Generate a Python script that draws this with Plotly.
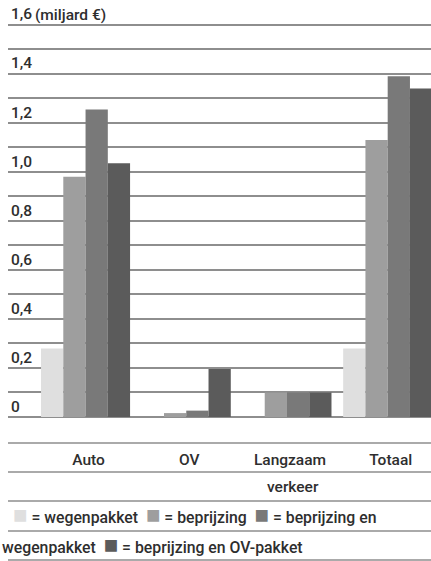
import plotly.graph_objects as go

# ---------------- data ----------------
categories = ["Auto", "OV", "Langzaam", "Totaal"]
extra_label = "verkeer"  # second line under "Langzaam"

series_names = ["wegenpakket", "beprijzing", "beprijzing en wegenpakket",
                "beprijzing en OV-pakket"]
wegenpakket = [0.28, 0.0, 0.0, 0.28]
beprijzing = [0.98, 0.016, 0.10, 1.13]
beprijzing_wegenpakket = [1.255, 0.026, 0.10, 1.39]
beprijzing_ov_pakket = [1.035, 0.196, 0.10, 1.34]

y_tick_values = [0, 0.1, 0.2, 0.3, 0.4, 0.5, 0.6, 0.7, 0.8,
                 0.9, 1.0, 1.1, 1.2, 1.3, 1.4, 1.5, 1.6]
y_tick_labels = ["0", "", "0,2", "", "0,4", "", "0,6", "", "0,8",
                 "", "1,0", "", "1,2", "", "1,4", "", "1,6"]
y_unit = "(miljard €)"

legend_line1 = ["= wegenpakket", "= beprijzing", "= beprijzing en"]
legend_line2_prefix = "wegenpakket"
legend_line2 = ["= beprijzing en OV-pakket"]

# ---------------- style ----------------
colors = ["#dfdfdf", "#9e9e9e", "#797979", "#5b5b5b"]
grid_color = "#8e8e8e"
text_color = "#2e2e2e"
font_family = "Roboto, 'Open Sans', sans-serif"
FONT = dict(family=font_family, size=15.5, color=text_color, weight=500)
LEG_FONT = dict(family=font_family, size=15.8, color=text_color, weight=500)

W, H = 431, 561
m_l, m_r, m_t, m_b = 8, 0, 0, 144
plot_h = H - m_t - m_b
plot_w = W - m_l - m_r


def py(pixel_y):
    """page pixel row -> paper y"""
    return (H - m_b - pixel_y) / plot_h


def px(pixel_x):
    return (pixel_x - m_l) / plot_w


fig = go.Figure()
all_series = [wegenpakket, beprijzing, beprijzing_wegenpakket, beprijzing_ov_pakket]
for name, vals, col in zip(series_names, all_series, colors):
    fig.add_trace(go.Bar(
        x=categories, y=vals, name=name,
        marker=dict(color=col, line=dict(width=0)),
        showlegend=False, hoverinfo="skip",
    ))

# horizontal rules below the plot area
for yy in [443, 472, 501, 531, 560]:
    fig.add_shape(type="line", xref="paper", yref="paper",
                  x0=0, x1=1, y0=py(yy), y1=py(yy),
                  line=dict(color=grid_color, width=1.6), layer="below")

# unit text next to the top tick label
fig.add_annotation(x=px(33), xref="paper", y=y_tick_values[-1], yref="y",
                   text=y_unit, showarrow=False, xanchor="left",
                   yanchor="bottom", yshift=-1, font=FONT)

# "verkeer" second line of the Langzaam label
fig.add_annotation(x=categories[2], xref="x", y=py(487), yref="paper",
                   text=extra_label, showarrow=False, yanchor="middle",
                   xshift=6, font=FONT)


def sq(c):
    return f"<span style='color:{c};font-size:24px'>■</span>"


line1 = "  ".join(f"{sq(c)} {t}" for c, t in zip(colors[:3], legend_line1))
line2 = f"{legend_line2_prefix}  {sq(colors[3])} {legend_line2[0]}"
fig.add_annotation(x=px(11), xref="paper", y=py(515), yref="paper",
                   text=line1, showarrow=False, xanchor="left", yanchor="middle",
                   font=LEG_FONT)
fig.add_annotation(x=px(0), xref="paper", y=py(545), yref="paper",
                   text=line2, showarrow=False, xanchor="left", yanchor="middle",
                   font=LEG_FONT)

fig.update_layout(
    width=W, height=H,
    margin=dict(l=m_l, r=m_r, t=m_t, b=m_b, pad=0),
    paper_bgcolor="white", plot_bgcolor="white",
    barmode="group", bargap=0.116, bargroupgap=0,
    font=FONT,
    showlegend=False,
)
fig.update_xaxes(
    range=[-0.77, 3.43],
    showgrid=False, zeroline=False, showline=False,
    ticks="outside", ticklen=28, tickcolor="rgba(0,0,0,0)",
    ticklabelshift=3, tickfont=FONT,
)
fig.update_yaxes(
    range=[0, 1.7016], tickmode="array", tickvals=y_tick_values,
    ticktext=y_tick_labels, ticklabelposition="inside top", ticks="",
    showgrid=True, gridcolor=grid_color, gridwidth=1.6,
    zeroline=True, zerolinecolor=grid_color, zerolinewidth=1.6,
    showline=False, tickfont=FONT,
)

fig.write_html("out.html", config={"displayModeBar": False},
               post_script="document.body.style.margin='0';")
